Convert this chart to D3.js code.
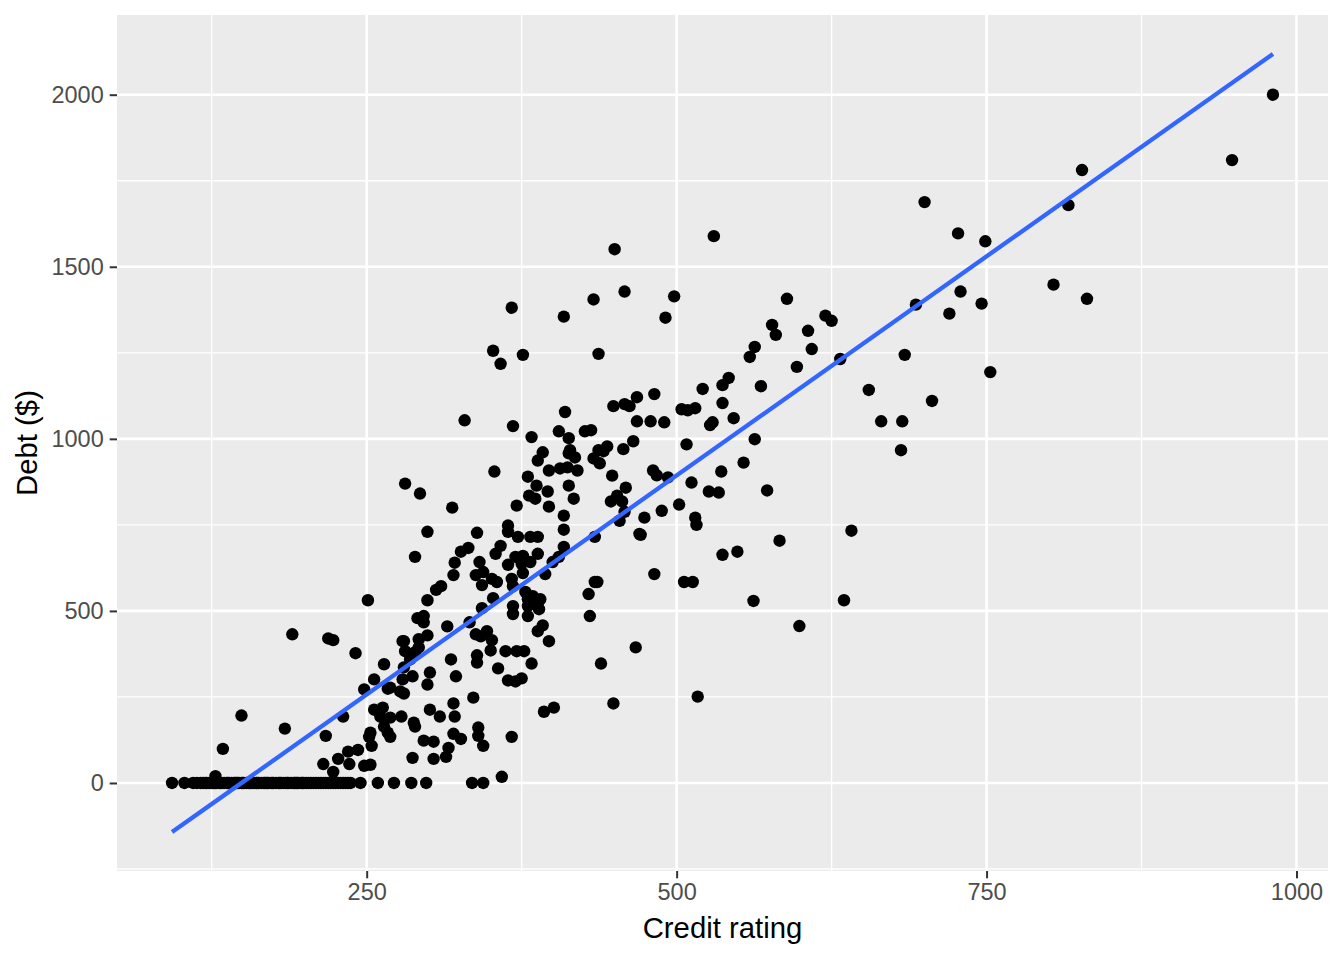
<!DOCTYPE html>
<html>
<head>
<meta charset="utf-8">
<script src="https://cdn.jsdelivr.net/npm/d3@7"></script>
<style>
  body { margin: 0; background: #ffffff; }
  text { font-family: "Liberation Sans", Arial, sans-serif; }
</style>
</head>
<body>
<div id="chart"></div>
<script>

// ratings of customers with zero debt
const zeroDebtRatings = [93, 103, 110, 113, 116, 118, 120, 121, 123, 125, 126, 127, 128, 129, 131, 132, 133,
  135, 137, 138, 139, 141, 143, 144, 145, 146, 147, 149, 150, 151, 153, 155, 156, 157, 159, 161, 162, 163,
  165, 167, 168, 169, 170, 171, 173, 174, 175, 177, 179, 180, 181, 183, 185, 186, 187, 189, 191, 192, 193,
  194, 195, 197, 198, 199, 201, 203, 205, 207, 209, 211, 213, 215, 217, 219, 221, 223, 225, 227, 229, 231,
  233, 235, 237, 245, 259, 272, 286, 298, 335, 344];

// [credit rating, debt] for everyone else
const lowDebt = [[128, 20], [134, 99], [149, 196], [184, 158], [190, 432], [219, 420], [223, 415], [241, 377],
  [215, 55], [217, 137], [223, 32], [227, 70], [231, 193], [235, 91], [236, 55], [243, 96], [248, 50],
  [253, 53], [248, 272], [251, 531], [252, 134], [253, 146], [254, 108], [256, 301], [256, 213], [261, 193],
  [263, 219], [264, 345], [264, 164], [267, 146], [267, 274], [269, 190], [269, 134], [279, 412], [359, 18]];

const midDebt = [[299, 531], [291, 479], [296, 485], [296, 467], [315, 455], [333, 467], [343, 508], [368, 514],
  [368, 491], [380, 485], [382, 529], [389, 529], [389, 505], [380, 514], [430, 485], [388, 441], [392, 458],
  [397, 412], [467, 394], [280, 412], [292, 418], [299, 429], [281, 383], [289, 380], [292, 394], [285, 359],
  [338, 432], [347, 441], [342, 426], [351, 415], [350, 385], [362, 383], [371, 383], [377, 383], [383, 347],
  [339, 371], [339, 350], [318, 359], [356, 333], [364, 298], [370, 295], [375, 304], [439, 347], [301, 321],
  [280, 336], [287, 310], [279, 301], [269, 277], [299, 286], [280, 260], [277, 266], [322, 310], [336, 248],
  [320, 231], [301, 213], [309, 193], [321, 193], [278, 193], [288, 175], [289, 164], [320, 143], [326, 128],
  [340, 161], [340, 137], [344, 108], [367, 134], [296, 123], [304, 120], [316, 102], [314, 76], [287, 73],
  [304, 70], [393, 207], [401, 219], [449, 231], [517, 251], [599, 456], [562, 529], [635, 531]];

const coreDebt = [[329, 1054], [353, 905], [281, 870], [293, 841], [319, 800], [299, 730], [339, 727], [289, 657],
  [326, 672], [332, 683], [321, 640], [341, 642], [320, 604], [354, 666], [358, 689], [338, 604], [344, 613],
  [351, 593], [343, 575], [355, 584], [310, 572], [306, 561], [352, 537],
  [368, 1037], [410, 1078], [449, 1095], [458, 1101], [462, 1095], [468, 1051], [383, 1005], [405, 1022],
  [413, 1002], [426, 1022], [431, 1025], [465, 993], [457, 970], [392, 961], [388, 937], [414, 967], [413, 958],
  [418, 946], [437, 967], [444, 978], [441, 964], [433, 943], [438, 929], [397, 908], [406, 914], [412, 917],
  [420, 908], [380, 890], [387, 864], [396, 847], [381, 835], [386, 826], [413, 864], [417, 826], [397, 803],
  [371, 806], [448, 893], [459, 858], [452, 835], [447, 818], [456, 818], [454, 762], [458, 788], [409, 777],
  [409, 736], [364, 748], [364, 730], [372, 715], [382, 715], [388, 715], [409, 686], [434, 715], [470, 724],
  [364, 634], [370, 657], [376, 660], [382, 642], [388, 666], [375, 637], [400, 642], [405, 657], [376, 610],
  [394, 607], [367, 593], [368, 572], [378, 555], [380, 534], [384, 543], [390, 534], [382, 520], [434, 584],
  [436, 584], [429, 549], [482, 607], [506, 584], [513, 584]];

const upperDebt = [[437, 1247], [597, 1209], [563, 1267], [559, 1238], [580, 1302], [521, 1145], [537, 1156],
  [542, 1177], [568, 1153], [482, 1130], [468, 1121], [504, 1086], [509, 1083], [515, 1089], [537, 1104],
  [479, 1051], [490, 1048], [527, 1040], [529, 1048], [546, 1060], [508, 984], [563, 999], [481, 908],
  [484, 894], [493, 888], [512, 873], [536, 905], [554, 931], [573, 850], [526, 847], [534, 844], [502, 809],
  [488, 791], [474, 771], [515, 771], [516, 750], [471, 721], [583, 704], [537, 663], [549, 672],
  [450, 1551], [458, 1428], [433, 1405], [367, 1381], [409, 1355], [352, 1256], [358, 1218], [376, 1244],
  [498, 1414], [491, 1352], [530, 1589]];

const highDebt = [[589, 1407], [620, 1358], [625, 1343], [577, 1331], [606, 1314], [609, 1261], [632, 1232],
  [693, 1390], [729, 1428], [720, 1364], [746, 1393], [684, 1244], [753, 1194], [655, 1142], [706, 1110],
  [665, 1051], [682, 1051], [681, 967], [641, 733],
  [981, 2000], [948, 1810], [827, 1781], [816, 1679], [700, 1688], [727, 1597], [749, 1574], [804, 1448],
  [831, 1407]];

const xTicks = [250, 500, 750, 1000];
const xMinor = [125, 375, 625, 875];
const yTicks = [0, 500, 1000, 1500, 2000];
const yMinor = [-250, 250, 750, 1250, 1750];

const points = zeroDebtRatings.map(r => [r, 0])
  .concat(lowDebt, midDebt, coreDebt, upperDebt, highDebt);

// linear fit (geom_smooth method = "lm")
const mx = d3.mean(points, d => d[0]);
const my = d3.mean(points, d => d[1]);
const slope = d3.sum(points, d => (d[0] - mx) * (d[1] - my)) / d3.sum(points, d => (d[0] - mx) ** 2);
const intercept = my - slope * mx;
const [xLo, xHi] = d3.extent(points, d => d[0]);
const fitLine = [[xLo, intercept + slope * xLo], [xHi, intercept + slope * xHi]];

const W = 1344, H = 960;
const panel = { left: 117, right: 1328, top: 15, bottom: 871 };

function padded(lo, hi) {
  const p = (hi - lo) * 0.05;
  return [lo - p, hi + p];
}

const yLo = Math.min(d3.min(points, d => d[1]), fitLine[0][1]);
const yHi = Math.max(d3.max(points, d => d[1]), fitLine[1][1]);

const x = d3.scaleLinear().domain(padded(xLo, xHi)).range([panel.left, panel.right]);
const y = d3.scaleLinear().domain(padded(yLo, yHi)).range([panel.bottom, panel.top]);

const svg = d3.select('#chart').append('svg')
  .attr('width', W).attr('height', H);

svg.append('rect')
  .attr('x', panel.left).attr('y', panel.top)
  .attr('width', panel.right - panel.left).attr('height', panel.bottom - panel.top)
  .attr('fill', '#EBEBEB');

const grid = svg.append('g');

grid.selectAll('.xminor').data(xMinor).enter().append('line')
  .attr('x1', d => x(d)).attr('x2', d => x(d))
  .attr('y1', panel.top).attr('y2', panel.bottom)
  .attr('stroke', '#fff').attr('stroke-width', 1.3);
grid.selectAll('.yminor').data(yMinor).enter().append('line')
  .attr('y1', d => y(d)).attr('y2', d => y(d))
  .attr('x1', panel.left).attr('x2', panel.right)
  .attr('stroke', '#fff').attr('stroke-width', 1.3);
grid.selectAll('.xmajor').data(xTicks).enter().append('line')
  .attr('x1', d => x(d)).attr('x2', d => x(d))
  .attr('y1', panel.top).attr('y2', panel.bottom)
  .attr('stroke', '#fff').attr('stroke-width', 2.6);
grid.selectAll('.ymajor').data(yTicks).enter().append('line')
  .attr('y1', d => y(d)).attr('y2', d => y(d))
  .attr('x1', panel.left).attr('x2', panel.right)
  .attr('stroke', '#fff').attr('stroke-width', 2.6);

// points
svg.append('g').selectAll('circle').data(points).enter().append('circle')
  .attr('cx', d => x(d[0]))
  .attr('cy', d => y(d[1]))
  .attr('r', 6.2)
  .attr('fill', '#000');

// regression line
svg.append('path')
  .datum(fitLine)
  .attr('d', d3.line().x(d => x(d[0])).y(d => y(d[1])))
  .attr('fill', 'none')
  .attr('stroke', '#3366FF')
  .attr('stroke-width', 4.3);

// axes
const xAxis = svg.append('g')
  .attr('transform', `translate(0,${panel.bottom})`)
  .call(d3.axisBottom(x).tickValues(xTicks).tickFormat(d3.format('d')).tickSize(7.3).tickPadding(5));
const yAxis = svg.append('g')
  .attr('transform', `translate(${panel.left},0)`)
  .call(d3.axisLeft(y).tickValues(yTicks).tickFormat(d3.format('d')).tickSize(7.3).tickPadding(6));

[xAxis, yAxis].forEach(a => {
  a.select('.domain').remove();
  a.selectAll('.tick line').attr('stroke', '#333333').attr('stroke-width', 2);
  a.selectAll('.tick text')
    .attr('fill', '#4D4D4D')
    .style('font-size', '23.5px')
    .style('font-family', '"Liberation Sans", Arial, sans-serif');
});

svg.append('text')
  .attr('x', (panel.left + panel.right) / 2)
  .attr('y', 938)
  .attr('text-anchor', 'middle')
  .style('font-size', '29.3px')
  .attr('fill', '#000')
  .text('Credit rating');

svg.append('text')
  .attr('transform', `translate(37,${(panel.top + panel.bottom) / 2}) rotate(-90)`)
  .attr('text-anchor', 'middle')
  .style('font-size', '29.3px')
  .attr('fill', '#000')
  .text('Debt ($)');

</script>
</body>
</html>
